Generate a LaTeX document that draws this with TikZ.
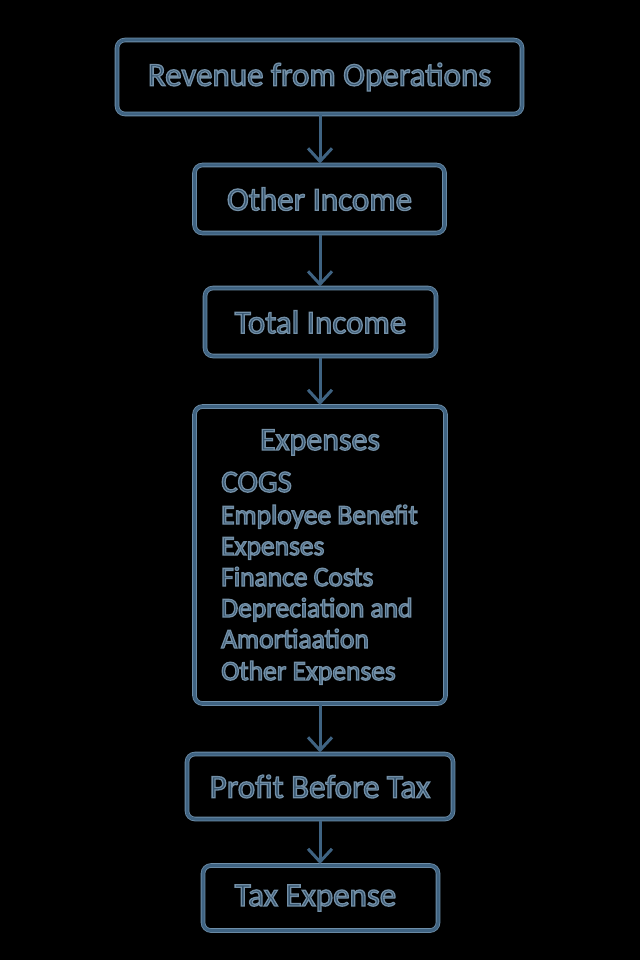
\documentclass[tikz,border=0pt]{standalone}
\usepackage{fontspec}
\setmainfont{Carlito}
\usetikzlibrary{arrows.meta}
\definecolor{edgecol}{HTML}{3F6382}
\definecolor{rimcol}{HTML}{6E8EA8}
\definecolor{txtcol}{HTML}{34536E}
\newcommand\otext[1]{\special{pdf:code q 2 Tr 1.3 w 0.45 0.56 0.65 RG}#1\special{pdf:code Q}}
\tikzset{
  boxnode/.style={draw=edgecol, line width=3pt, rounded corners=8pt,
    preaction={draw=rimcol, line width=4.6pt},
    text=txtcol, inner sep=0pt},
  bigtxt/.style={font=\fontsize{33}{38}\selectfont},
  listtxt/.style={text=txtcol, inner sep=0pt, anchor=base west, font=\fontsize{27.5}{30}\selectfont},
  arr/.style={draw=edgecol, line width=3pt,
    -{Straight Barb[length=13pt,width=24pt,line width=3pt]}}
}
\begin{document}
\begin{tikzpicture}[x=1pt,y=-1pt]
\fill[black] (0,0) rectangle (640,960);
\useasboundingbox (0,0) rectangle (640,960);
\node[boxnode,bigtxt,minimum width=405pt,minimum height=74pt] (rev) at (319.5,77) {\otext{Revenue from Operations}};
\node[boxnode,bigtxt,minimum width=250pt,minimum height=68pt] (oth) at (319.5,199) {\otext{Other Income}};
\node[boxnode,bigtxt,minimum width=231pt,minimum height=68pt] (tot) at (320.5,322) {\otext{Total Income}};
\node[boxnode,minimum width=251pt,minimum height=297pt] (exp) at (320,555) {};
\node[text=txtcol,inner sep=0pt,anchor=base,font=\fontsize{32}{36}\selectfont] (exptitle) at (320,450) {\otext{Expenses}};
\node[listtxt,font=\fontsize{31}{34}\selectfont] (l1) at (221,492) {\otext{COGS}};
\node[listtxt] (l2) at (221,524) {\otext{Employee Benefit}};
\node[listtxt] (l3) at (221,555) {\otext{Expenses}};
\node[listtxt] (l4) at (221,586) {\otext{Finance Costs}};
\node[listtxt] (l5) at (221,617) {\otext{Depreciation and}};
\node[listtxt] (l6) at (221,648) {\otext{Amortiaation}};
\node[listtxt] (l7) at (221,680) {\otext{Other Expenses}};
\node[boxnode,bigtxt,minimum width=266pt,minimum height=65pt] (pbt) at (320,786.5) {\otext{Profit Before Tax}};
\node[boxnode,bigtxt,minimum width=235pt,minimum height=65pt] (tax) at (320.5,898) {\otext{Tax Expense}\hspace*{10pt}};
\draw[arr] (rev.south -| 320,0) -- (oth.north -| 320,0);
\draw[arr] (oth.south -| 320,0) -- (tot.north -| 320,0);
\draw[arr] (tot.south -| 320,0) -- (exp.north -| 320,0);
\draw[arr] (exp.south -| 320,0) -- (pbt.north -| 320,0);
\draw[arr] (pbt.south -| 320,0) -- (tax.north -| 320,0);
\end{tikzpicture}
\end{document}
